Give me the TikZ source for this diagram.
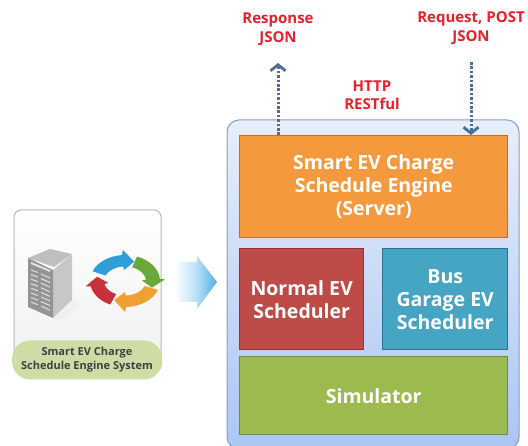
\documentclass[tikz,border=0pt]{standalone}
\usepackage{fontspec}
\setmainfont{Open Sans}
\usetikzlibrary{arrows.meta,calc}
\definecolor{txtred}{HTML}{E9202B}
\definecolor{flowblue}{HTML}{4F6F92}
\definecolor{cycred}{HTML}{C8303A}
\definecolor{cycorange}{HTML}{F0A030}
\definecolor{cycgreen}{HTML}{6BA83A}
\definecolor{cycblue}{HTML}{2F9FD8}
\tikzset{
  x=1pt,y=-1pt,
  blockbox/.style={line width=1.4pt,text=white,font=\fontsize{19.5}{23}\selectfont\bfseries,align=center,inner sep=0pt,anchor=north west},
  redlabel/.style={text=txtred,font=\fontsize{15}{18.5}\selectfont\bfseries,align=center,inner sep=0pt},
  flow/.style={draw=flowblue,line width=3pt,dash pattern=on 2.6pt off 1.8pt,-{Straight Barb[length=6pt,width=15pt,line width=2.8pt]}},
}
\newcommand{\cycarc}[3]{%
  \fill[#1] (#2:35 and 26) arc[start angle=#2,end angle=#3,x radius=35,y radius=26]
    -- ({#3+2}:40 and 31) -- ({#3+24}:28.5 and 20.5) -- ({#3+2}:17 and 11) -- (#3:21 and 14.5)
    arc[start angle=#3,end angle=#2,x radius=21,y radius=14.5] -- cycle;}
\begin{document}
\begin{tikzpicture}
\useasboundingbox (0,0) rectangle (528,446);
\fill[white] (0,0) rectangle (528,446);
% main panel
\path[draw={rgb,255:red,130;green,160;blue,195},line width=1pt,rounded corners=12pt,top color={rgb,255:red,232;green,238;blue,249},bottom color={rgb,255:red,170;green,198;blue,245}]
  (227,120) rectangle (519,449);
\node[blockbox,minimum width=268,minimum height=102,fill={rgb,255:red,245;green,153;blue,62},draw={rgb,255:red,190;green,110;blue,50}] (engine) at (239,135) {Smart EV Charge\\Schedule Engine\\(Server)};
\node[blockbox,minimum width=124,minimum height=101,fill={rgb,255:red,190;green,75;blue,72},draw={rgb,255:red,150;green,50;blue,55}] (normal) at (239,248) {Normal EV\\Scheduler};
\node[blockbox,minimum width=125,minimum height=101,fill={rgb,255:red,70;green,165;blue,195},draw={rgb,255:red,45;green,115;blue,145}] (bus) at (382,248) {Bus\\Garage EV\\Scheduler};
\node[blockbox,minimum width=268,minimum height=78,fill={rgb,255:red,155;green,187;blue,80},draw={rgb,255:red,110;green,140;blue,70}] (sim) at (239,356) {Simulator};
% labels
\node[redlabel] (resp) at (278,29) {Response\\JSON};
\node[redlabel] (req) at (471,28) {Request, POST\\JSON};
\node[redlabel] (http) at (372,95) {HTTP\\RESTful};
% flows
\coordinate (resptip) at (278,63);
\coordinate (reqstart) at (471,62);
\draw[flow] (resptip |- engine.north) -- (resptip);
\draw[flow] (reqstart) -- (reqstart |- engine.north);
% left card
\path[draw=black!28,line width=1pt,rounded corners=7pt,top color=white,bottom color=black!6] (14,210) rectangle (161,372);
\node[fill={rgb,255:red,206;green,220;blue,166},rounded corners=18pt,minimum width=150,minimum height=39,inner sep=0pt,align=center,font=\fontsize{11}{14}\selectfont\bfseries,text=black!75] (sys) at (87,360) {Smart EV Charge\\Schedule Engine System};
% server icon
\fill[black!6] (53,318) -- (72,301) -- (80,305) -- (60,322) -- cycle;
\fill[black!25] (28,258) -- (50,249) -- (72,254) -- (54,267) -- cycle;
\fill[black!22] (53,270) -- (72,254) -- (72,300) -- (53,318) -- cycle;
\fill[black!42] (28,258) -- (53,270) -- (53,318) -- (28,307) -- cycle;
\foreach \i in {0,...,7}{
  \draw[black!14,line width=1.1pt] (31,{270+\i*4.6}) -- (38,{272.5+\i*4.6});
  \draw[black!14,line width=1.1pt] (41,{274+\i*4.6}) -- (50,{278+\i*4.6});
}
\draw[black!12,line width=2pt] (31,263) -- (50,271);
% cycle icon
\begin{scope}[shift={(125,281)}]
\cycarc{cycblue}{-158}{-95}
\cycarc{cycgreen}{-70}{-5}
\cycarc{cycorange}{20}{88}
\cycarc{cycred}{115}{168}
\end{scope}
% big arrow
\path[left color=white,right color={rgb,255:red,85;green,175;blue,228},middle color={rgb,255:red,185;green,225;blue,245}]
  (175,262) -- (197,262) -- (197,256) -- (217,282) -- (197,309) -- (197,302) -- (175,302) -- cycle;
\end{tikzpicture}
\end{document}
